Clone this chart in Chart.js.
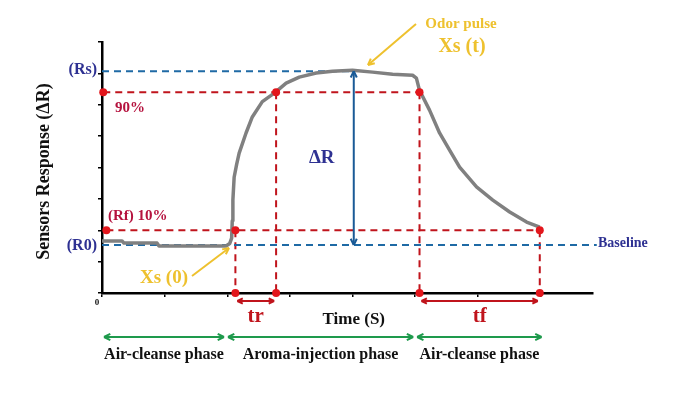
<!DOCTYPE html>
<html lang="en">
<head>
    <meta charset="UTF-8" />
    <title>Sensor response</title>
    <script src="https://cdn.jsdelivr.net/npm/chart.js"></script>
    <style>
        html, body { margin: 0; padding: 0; background: #fff; }
        #wrap { width: 685px; height: 393px; }
    </style>
</head>
<body>
    <div id="wrap"><canvas id="chart" width="685" height="393"></canvas></div>

    <script>
        // response curve (time in tick units, response in tick units)
        const timeX = [0, 0.32, 0.35, 0.88, 0.91, 1.98, 2.04, 2.07, 2.08, 2.09, 2.11, 2.15, 2.19, 2.30, 2.40, 2.56, 2.70, 2.78, 2.94,
            3.15, 3.42, 3.68, 4.00, 4.32, 4.64, 4.96, 5.02, 5.07, 5.23, 5.39, 5.55, 5.71, 5.98, 6.24, 6.51, 6.78, 6.99];
        const response = [1.66, 1.66, 1.59, 1.59, 1.50, 1.50, 1.58, 1.75, 2.30, 2.96, 3.69, 4.10, 4.46, 5.10, 5.61, 6.10, 6.30, 6.42, 6.69,
            6.88, 7.01, 7.07, 7.10, 7.04, 6.97, 6.94, 6.85, 6.46, 5.83, 5.10, 4.55, 4.01, 3.38, 2.96, 2.58, 2.26, 2.10];

        const xTicks = [0, 1, 2, 3, 4, 5, 6, 7];
        const yTicks = [0, 1, 2, 3, 4, 5, 6, 7, 8];

        // levels
        const levelRs = 7.07;
        const level90 = 6.40;
        const level10 = 2.00;
        const levelR0 = 1.53;

        // tr start, tr end, tf start, tf end
        const markX = [2.13, 2.78, 5.07, 6.99];
        const peakX = 4.02;
        const phaseX = [0, 1.98, 5.0, 7.05];
        const phaseNames = ['Air-cleanse phase', 'Aroma-injection phase', 'Air-cleanse phase'];

        const curvePts = timeX.map((x, i) => ({ x: x, y: response[i] }));
        const seg = (x1, y1, x2, y2) => [{ x: x1, y: y1 }, { x: x2, y: y2 }];

        const RED = '#c0141c';
        const BLUE_LINE = '#1f6aa5';
        const NAVY = '#2e3192';
        const CRIMSON = '#b5123e';
        const GOLD = '#eec12e';
        const GREEN = '#1e9a4c';
        const SERIF = '"Liberation Serif", "DejaVu Serif", serif';

        function dashed(data, color) {
            return {
                data: data, borderColor: color, borderWidth: 2, borderDash: [7, 5],
                pointRadius: 0, fill: false, tension: 0, order: 2
            };
        }

        function arrowHead(ctx, x1, y1, x2, y2, size) {
            const a = Math.atan2(y2 - y1, x2 - x1);
            ctx.beginPath();
            ctx.moveTo(x2, y2);
            ctx.lineTo(x2 - size * Math.cos(a - 0.45), y2 - size * Math.sin(a - 0.45));
            ctx.moveTo(x2, y2);
            ctx.lineTo(x2 - size * Math.cos(a + 0.45), y2 - size * Math.sin(a + 0.45));
            ctx.stroke();
        }

        function arrow(ctx, x1, y1, x2, y2, color, both, size) {
            ctx.save();
            ctx.strokeStyle = color;
            ctx.lineWidth = 2;
            ctx.beginPath();
            ctx.moveTo(x1, y1);
            ctx.lineTo(x2, y2);
            ctx.stroke();
            arrowHead(ctx, x1, y1, x2, y2, size || 8);
            if (both) arrowHead(ctx, x2, y2, x1, y1, size || 8);
            ctx.restore();
        }

        function text(ctx, str, x, y, font, color, align) {
            ctx.font = font;
            ctx.fillStyle = color;
            ctx.textAlign = align || 'left';
            ctx.textBaseline = 'middle';
            ctx.fillText(str, x, y);
        }

        const notes = {
            id: 'notes',
            afterDraw(chart) {
                const ctx = chart.ctx;
                const xs = chart.scales.x, ys = chart.scales.y;
                const px = v => xs.getPixelForValue(v);
                const py = v => ys.getPixelForValue(v);
                ctx.save();

                // delta R arrow
                arrow(ctx, px(peakX), py(levelR0), px(peakX), py(levelRs), '#1a5a96', true, 7);

                // tr / tf arrows
                const ay = ys.bottom + 8;
                arrow(ctx, px(markX[0]) + 2, ay, px(markX[1]) - 2, ay, RED, true, 6);
                arrow(ctx, px(markX[2]) + 2, ay, px(markX[3]) - 2, ay, RED, true, 6);
                text(ctx, 'tr', (px(markX[0]) + px(markX[1])) / 2, ys.bottom + 24, 'bold 21px ' + SERIF, RED, 'center');
                text(ctx, 'tf', (px(markX[2]) + px(markX[3])) / 2, ys.bottom + 24, 'bold 21px ' + SERIF, RED, 'center');

                // phases
                for (let i = 0; i < 3; i++) {
                    const a = px(phaseX[i]) + 2, b = px(phaseX[i + 1]) - 2;
                    arrow(ctx, a, ys.bottom + 44, b, ys.bottom + 44, GREEN, true, 7);
                    text(ctx, phaseNames[i], (a + b) / 2, ys.bottom + 62, 'bold 16px ' + SERIF, '#111', 'center');
                }

                text(ctx, 'Time (S)', px(4.02), ys.bottom + 27, 'bold 17px ' + SERIF, '#111', 'center');
                text(ctx, '0', xs.left - 5, ys.bottom + 10, 'bold 9px ' + SERIF, '#111', 'center');

                // y title
                ctx.save();
                ctx.translate(44, (ys.top + ys.bottom) / 2 + 4);
                ctx.rotate(-Math.PI / 2);
                text(ctx, 'Sensors Response (\u0394R)', 0, 0, 'bold 18px ' + SERIF, '#111', 'center');
                ctx.restore();

                // level labels
                text(ctx, '(Rs)', xs.left - 5, py(levelRs) - 1, 'bold 16px ' + SERIF, NAVY, 'right');
                text(ctx, '(R0)', xs.left - 5, py(levelR0) + 1, 'bold 16px ' + SERIF, NAVY, 'right');
                text(ctx, '90%', xs.left + 13, py(level90) + 16, 'bold 15px ' + SERIF, CRIMSON);
                text(ctx, '(Rf) 10%', xs.left + 6, py(level10) - 14, 'bold 15px ' + SERIF, CRIMSON);
                text(ctx, 'Baseline', xs.right + 5, py(levelR0) - 2, 'bold 14px ' + SERIF, NAVY);
                text(ctx, '\u0394R', px(peakX) - 32, py(4.29), 'bold 19px ' + SERIF, NAVY, 'center');

                // gold callouts
                text(ctx, 'Xs (0)', 164, 278, 'bold 19px ' + SERIF, GOLD, 'center');
                arrow(ctx, 192, 276, 229, 248, GOLD, false, 7);
                text(ctx, 'Odor pulse', 461, 24, 'bold 15px ' + SERIF, GOLD, 'center');
                text(ctx, 'Xs (t)', 462, 47, 'bold 20px ' + SERIF, GOLD, 'center');
                arrow(ctx, 416, 24, 368, 65, GOLD, false, 7);

                ctx.restore();
            }
        };

        new Chart(document.getElementById('chart'), {
            type: 'line',
            data: {
                datasets: [
                    {
                        type: 'scatter',
                        data: [
                            { x: 0.02, y: level90 }, { x: 0.07, y: level10 },
                            { x: markX[0], y: level10 }, { x: markX[1], y: level90 },
                            { x: markX[2], y: level90 }, { x: markX[3], y: level10 },
                            ...markX.map(x => ({ x: x, y: 0 }))
                        ],
                        pointRadius: 4, pointBackgroundColor: '#e3161c', pointBorderWidth: 0, order: 0
                    },
                    {
                        data: curvePts, borderColor: '#808080', borderWidth: 3.5, pointRadius: 0,
                        tension: 0, borderJoinStyle: 'round', fill: false, order: 1
                    },
                    dashed(seg(0, levelRs, peakX, levelRs), BLUE_LINE),
                    dashed(seg(0, levelR0, 7.9, levelR0), BLUE_LINE),
                    dashed(seg(0.02, level90, markX[2], level90), RED),
                    dashed(seg(0.07, level10, markX[3], level10), RED),
                    dashed(seg(markX[0], level10, markX[0], 0), RED),
                    dashed(seg(markX[1], level90, markX[1], 0), RED),
                    dashed(seg(markX[2], level90, markX[2], 0), RED),
                    dashed(seg(markX[3], level10, markX[3], 0), RED)
                ]
            },
            options: {
                responsive: false,
                animation: false,
                layout: { padding: { left: 98, right: 92, top: 42, bottom: 96 } },
                plugins: { legend: { display: false }, tooltip: { enabled: false } },
                scales: {
                    x: {
                        type: 'linear', min: 0, max: 7.84,
                        afterBuildTicks: s => { s.ticks = xTicks.map(v => ({ value: v })); },
                        afterFit: s => { s.height = 4; },
                        ticks: { display: false },
                        grid: { drawOnChartArea: false, drawTicks: true, tickLength: 4, color: '#000', lineWidth: 1.5 },
                        border: { color: '#000', width: 2.5 }
                    },
                    y: {
                        type: 'linear', min: 0, max: 8,
                        afterBuildTicks: s => { s.ticks = yTicks.map(v => ({ value: v })); },
                        afterFit: s => { s.width = 4; },
                        ticks: { display: false },
                        grid: { drawOnChartArea: false, drawTicks: true, tickLength: 4, color: '#000', lineWidth: 1.5 },
                        border: { color: '#000', width: 2.5 }
                    }
                },
                clip: false
            },
            plugins: [notes]
        });
    </script>
</body>
</html>
